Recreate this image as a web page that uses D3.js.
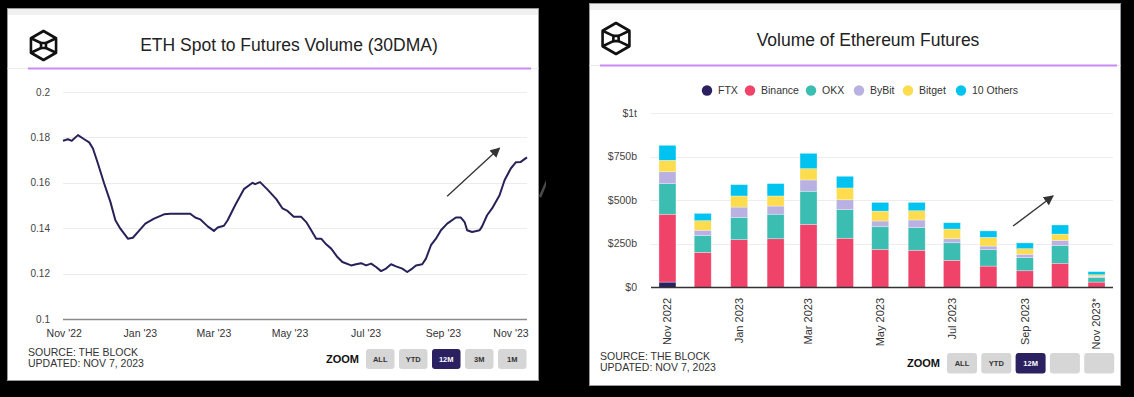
<!DOCTYPE html>
<html>
<head>
<meta charset="utf-8">
<script src="https://cdn.jsdelivr.net/npm/d3@7"></script>
<style>
  body { margin: 0; background: #000; }
  svg { display: block; }
  text { font-family: "Liberation Sans", Arial, sans-serif; }
</style>
</head>
<body>
<div id="chart"></div>
<script>
// left chart: ETH spot / futures volume ratio, 30DMA
var ratioDates = ["2022-10-31","2022-11-04","2022-11-07","2022-11-12","2022-11-17","2022-11-21","2022-11-24","2022-11-28",
    "2022-12-03","2022-12-08","2022-12-12","2022-12-16","2022-12-22","2022-12-26","2022-12-30",
    "2023-01-05","2023-01-12","2023-01-20","2023-01-25","2023-02-02","2023-02-10","2023-02-14","2023-02-18","2023-02-24",
    "2023-03-01","2023-03-04","2023-03-09","2023-03-12","2023-03-18","2023-03-25",
    "2023-04-01","2023-04-03","2023-04-07","2023-04-13","2023-04-20","2023-04-25","2023-04-29",
    "2023-05-04","2023-05-10","2023-05-14","2023-05-18","2023-05-22","2023-05-26","2023-05-30",
    "2023-06-03","2023-06-08","2023-06-12","2023-06-19","2023-06-23","2023-06-27",
    "2023-07-01","2023-07-05","2023-07-09","2023-07-13","2023-07-17","2023-07-21","2023-07-25","2023-07-30",
    "2023-08-03","2023-08-07","2023-08-10","2023-08-15","2023-08-18","2023-08-22","2023-08-26","2023-08-30",
    "2023-09-04","2023-09-11","2023-09-15","2023-09-18","2023-09-20","2023-09-24","2023-09-30",
    "2023-10-02","2023-10-06","2023-10-10","2023-10-16","2023-10-20","2023-10-25","2023-10-29",
    "2023-11-02","2023-11-07"];
var ratioValues = [0.1785,0.1792,0.1785,0.1810,0.1792,0.1778,0.1751,0.1685,
    0.1597,0.1516,0.1435,0.1398,0.1354,0.1358,0.1383,
    0.1420,0.1442,0.1461,0.1464,0.1464,0.1464,0.1447,0.1439,0.1408,
    0.1388,0.1403,0.1411,0.1435,0.1501,0.1572,
    0.1600,0.1594,0.1603,0.1570,0.1528,0.1487,0.1476,
    0.1450,0.1450,0.1427,0.1391,0.1354,0.1354,0.1329,
    0.1310,0.1273,0.1251,0.1236,0.1241,0.1246,
    0.1236,0.1244,0.1229,0.1211,0.1222,0.1241,0.1232,0.1222,
    0.1207,0.1222,0.1236,0.1241,0.1266,0.1325,0.1354,0.1391,
    0.1420,0.1447,0.1447,0.1427,0.1391,0.1383,0.1391,
    0.1408,0.1457,0.1487,0.1545,0.1611,0.1663,0.1690,
    0.1692,0.1712];
var ratioTicks = [0.1, 0.12, 0.14, 0.16, 0.18, 0.2];
var ratioMonthTicks = ["2022-11-01","2023-01-01","2023-03-01","2023-05-01","2023-07-01","2023-09-01","2023-11-01"];

// right chart: monthly ETH futures volume, $b
var months = ["2022-11-01","2022-12-01","2023-01-01","2023-02-01","2023-03-01","2023-04-01","2023-05-01",
    "2023-06-01","2023-07-01","2023-08-01","2023-09-01","2023-10-01","2023-11-01"];
var exchanges = ["FTX", "Binance", "OKX", "ByBit", "Bitget", "10 Others"];
var ftx     = [30, 0, 0, 0, 0, 0, 0, 0, 0, 0, 0, 0, 0];
var binance = [390, 201, 274, 279, 362, 282, 218, 213, 155, 122, 95, 138, 30];
var okx     = [176, 96, 128, 141, 190, 164, 130, 130, 101, 94, 75, 101, 25];
var bybit   = [68, 31, 59, 47, 65, 57, 33, 44, 23, 21, 20, 31, 8];
var bitget  = [66, 55, 64, 58, 65, 68, 57, 53, 56, 50, 32, 36, 9];
var others  = [86, 42, 65, 71, 88, 67, 50, 48, 36, 37, 33, 52, 18];
var colors = ["#2b2160", "#f0436a", "#3cbdb1", "#b8b1e1", "#fddc4e", "#00c3ef"];
var volTicks = [0, 250, 500, 750, 1000];
var volTickLabels = ["$0", "$250b", "$500b", "$750b", "$1t"];
var volLabelMonths = ["2022-11-01","2023-01-01","2023-03-01","2023-05-01","2023-07-01","2023-09-01","2023-11-01"];
var volLabelText = ["Nov 2022","Jan 2023","Mar 2023","May 2023","Jul 2023","Sep 2023","Nov 2023*"];

var parse = d3.timeParse("%Y-%m-%d");

var svg = d3.select("#chart").append("svg")
    .attr("width", 1134).attr("height", 397);
svg.append("rect").attr("width", 1134).attr("height", 397).attr("fill", "#000");

var defs = svg.append("defs");
defs.append("marker").attr("id", "arrow")
    .attr("viewBox", "0 0 10 10").attr("refX", 9).attr("refY", 5)
    .attr("markerWidth", 10).attr("markerHeight", 10)
    .attr("markerUnits", "userSpaceOnUse")
    .attr("orient", "auto")
    .append("path").attr("d", "M0,0L10,5L0,10z").attr("fill", "#333");

function logo(g, cx, cy, r){
    var s = r * 0.34, k = r * 0.866;
    var lg = g.append("g").attr("transform", "translate(" + cx + "," + cy + ")")
        .attr("fill", "none").attr("stroke", "#111").attr("stroke-width", 2.6)
        .attr("stroke-linejoin", "round");
    lg.append("path").attr("d", "M0," + (-r) + "L" + k + "," + (-r/2) + "L" + k + "," + (r/2) +
        "L0," + r + "L" + (-k) + "," + (r/2) + "L" + (-k) + "," + (-r/2) + "Z");
    lg.append("rect").attr("x", -s/2).attr("y", -s/2).attr("width", s).attr("height", s);
    lg.append("path").attr("d",
        "M" + (-k) + "," + (-r/2) + "L" + (-s/2) + "," + (-s/2) +
        "M" + k + "," + (-r/2) + "L" + (s/2) + "," + (-s/2) +
        "M" + (-k) + "," + (r/2) + "L" + (-s/2) + "," + (s/2) +
        "M" + k + "," + (r/2) + "L" + (s/2) + "," + (s/2));
}

function panel(x0, y0, x1, y1, lineY, purpleX0, purpleX1){
    var g = svg.append("g");
    g.append("rect").attr("x", x0).attr("y", y0).attr("width", x1 - x0).attr("height", y1 - y0)
        .attr("fill", "#fff").attr("stroke", "#9a9a9a").attr("stroke-width", 1);
    g.append("rect").attr("x", x0 + 0.5).attr("y", y0 + 0.5).attr("width", x1 - x0 - 1).attr("height", 6)
        .attr("fill", "#f1f1f1");
    g.append("line").attr("x1", x0).attr("x2", x1).attr("y1", lineY).attr("y2", lineY)
        .attr("stroke", "#ececec").attr("stroke-width", 1);
    g.append("line").attr("x1", purpleX0).attr("x2", purpleX1).attr("y1", lineY).attr("y2", lineY)
        .attr("stroke", "#c98af5").attr("stroke-width", 2);
    return g;
}

function footer(g, x, y, bx, by, bw, bh, gap, labels){
    g.append("text").attr("x", x).attr("y", y).attr("font-size", 10.5).attr("fill", "#333")
        .text("SOURCE: THE BLOCK");
    g.append("text").attr("x", x).attr("y", y + 11).attr("font-size", 10.5).attr("fill", "#333")
        .text("UPDATED: NOV 7, 2023");
    g.append("text").attr("x", bx - 7).attr("y", by + bh / 2).attr("dy", "0.35em")
        .attr("text-anchor", "end").attr("font-size", 11).attr("font-weight", "bold").attr("fill", "#111")
        .text("ZOOM");
    labels.forEach(function(l, i){
        var xx = bx + i * (bw + gap);
        g.append("rect").attr("x", xx).attr("y", by).attr("width", bw).attr("height", bh)
            .attr("rx", 3).attr("fill", l == "12M" ? "#2b2160" : "#d6d6d6");
        g.append("text").attr("x", xx + bw / 2).attr("y", by + bh / 2).attr("dy", "0.35em")
            .attr("text-anchor", "middle").attr("font-size", 7.5).attr("font-weight", "bold")
            .attr("fill", l == "12M" ? "#fff" : "#333").text(l);
    });
}

// ---------- left panel ----------
var left = panel(7.5, 8.5, 538.5, 380.5, 68.5, 28, 531);
logo(left, 43.5, 45.5, 14.5);
left.append("text").attr("x", 289).attr("y", 45).attr("dy", "0.35em").attr("text-anchor", "middle")
    .attr("font-family", "Roboto").attr("font-size", 17.5).attr("fill", "#222")
    .text("ETH Spot to Futures Volume (30DMA)");

var xL = d3.scaleTime().domain([parse("2022-10-31"), parse("2023-11-07")]).range([63, 527]);
var yL = d3.scaleLinear().domain([0.1, 0.2]).range([319, 92]);

left.selectAll(".grid").data(ratioTicks).enter().append("line")
    .attr("x1", 63).attr("x2", 527)
    .attr("y1", function(d){ return Math.round(yL(d)) + 0.5; })
    .attr("y2", function(d){ return Math.round(yL(d)) + 0.5; })
    .attr("stroke", function(d){ return d == 0.1 ? "#8a8a8a" : "#ececec"; })
    .attr("stroke-width", function(d){ return d == 0.1 ? 1.5 : 1; });
left.selectAll(".ylab").data(ratioTicks).enter().append("text")
    .attr("x", 50).attr("y", function(d){ return yL(d); }).attr("dy", "0.35em")
    .attr("text-anchor", "end").attr("font-size", 10).attr("fill", "#444")
    .text(function(d){ return d3.format("")(+d.toFixed(2)); });
left.selectAll(".xlab").data(ratioMonthTicks).enter().append("text")
    .attr("x", function(d){ return Math.min(xL(parse(d)), 511); })
    .attr("y", 333).attr("dy", "0.35em").attr("text-anchor", "middle")
    .attr("font-size", 10.5).attr("fill", "#333")
    .text(function(d){ return d3.timeFormat("%b '%y")(parse(d)); });

var ratio = ratioDates.map(function(d, i){ return {date: parse(d), value: ratioValues[i]}; });
left.append("path").datum(ratio)
    .attr("d", d3.line().x(function(d){ return xL(d.date); }).y(function(d){ return yL(d.value); }))
    .attr("fill", "none").attr("stroke", "#272158").attr("stroke-width", 2).attr("stroke-linejoin", "round");

left.append("line")
    .attr("x1", xL(parse("2023-09-04"))).attr("y1", yL(0.1541))
    .attr("x2", xL(parse("2023-10-16"))).attr("y2", yL(0.1753))
    .attr("stroke", "#333").attr("stroke-width", 1.3).attr("marker-end", "url(#arrow)");

footer(left, 28, 356, 366, 349, 28.5, 20, 4.5, ["ALL", "YTD", "12M", "3M", "1M"]);

// small grey sliver in the gap
svg.append("path").attr("d", "M539,196L546,180L546,186L541,198Z").attr("fill", "#4a4a4a");

// ---------- right panel ----------
var right = panel(589.5, 3.5, 1120.5, 385.5, 65.5, 600, 1117);
logo(right, 616, 38.5, 15.5);
right.append("text").attr("x", 868).attr("y", 40).attr("dy", "0.35em").attr("text-anchor", "middle")
    .attr("font-family", "Roboto").attr("font-size", 17.5).attr("fill", "#222")
    .text("Volume of Ethereum Futures");

// legend
var legendX = [707, 750, 811, 859, 908, 961];
exchanges.forEach(function(e, i){
    right.append("circle").attr("cx", legendX[i]).attr("cy", 90.5).attr("r", 5.2).attr("fill", colors[i]);
    right.append("text").attr("x", legendX[i] + 11).attr("y", 90.5).attr("dy", "0.35em")
        .attr("font-family", "Roboto").attr("font-size", 10.5).attr("fill", "#333").text(e);
});

var xR = d3.scaleTime().domain([parse("2022-10-18"), parse("2023-11-15")]).range([651, 1113]);
var yR = d3.scaleLinear().domain([0, 1000]).range([287.3, 113.3]);

right.selectAll(".grid").data(volTicks).enter().append("line")
    .attr("x1", 651).attr("x2", 1113)
    .attr("y1", function(d){ return Math.round(yR(d)) + 0.5; })
    .attr("y2", function(d){ return Math.round(yR(d)) + 0.5; })
    .attr("stroke", "#ededed").attr("stroke-width", 1);
right.selectAll(".ylab").data(volTicks).enter().append("text")
    .attr("x", 637).attr("y", function(d){ return yR(d); }).attr("dy", "0.35em")
    .attr("text-anchor", "end").attr("font-size", 10.5).attr("fill", "#444")
    .text(function(d, i){ return volTickLabels[i]; });

var table = months.map(function(m, i){
    return {month: parse(m), FTX: ftx[i], Binance: binance[i], OKX: okx[i], ByBit: bybit[i], Bitget: bitget[i], "10 Others": others[i]};
});
var stack = d3.stack().keys(exchanges)(table);
var barW = 17;
right.selectAll(".layer").data(stack).enter().append("g")
    .attr("fill", function(d, i){ return colors[i]; })
    .selectAll("rect").data(function(d){ return d; }).enter().append("rect")
    .attr("x", function(d){ return xR(d.data.month) - barW / 2; })
    .attr("width", barW)
    .attr("y", function(d){ return yR(d[1]); })
    .attr("height", function(d){ return Math.max(0, yR(d[0]) - yR(d[1])); })
    .attr("stroke", "#fff").attr("stroke-opacity", 0.5).attr("stroke-width", 0.6);

right.append("line").attr("x1", 651).attr("x2", 1113).attr("y1", 287.5).attr("y2", 287.5)
    .attr("stroke", "#333").attr("stroke-width", 1.5);

right.selectAll(".xlab").data(volLabelMonths).enter().append("text")
    .attr("transform", function(d){ return "translate(" + xR(parse(d)) + ",298) rotate(-90)"; })
    .attr("dy", "0.35em").attr("text-anchor", "end")
    .attr("font-size", 11).attr("fill", "#333")
    .text(function(d, i){ return volLabelText[i]; });

right.append("line")
    .attr("x1", xR(parse("2023-08-22"))).attr("y1", yR(352))
    .attr("x2", xR(parse("2023-09-25"))).attr("y2", yR(525))
    .attr("stroke", "#333").attr("stroke-width", 1.3).attr("marker-end", "url(#arrow)");

footer(right, 600, 360, 947, 353, 30, 20.5, 4.3, ["ALL", "YTD", "12M", "", ""]);
</script>
</body>
</html>
